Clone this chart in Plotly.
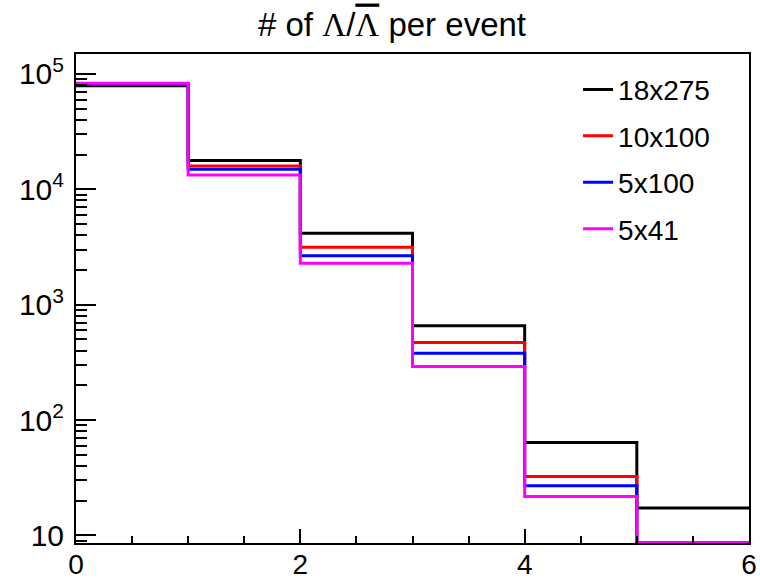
import plotly.graph_objects as go

# ---- data ----
bin_edges = [0, 1, 2, 3, 4, 5, 6]
series_names = ["18x275", "10x100", "5x100", "5x41"]
counts_18x275 = [79000, 17750, 4170, 655, 63.8, 17.3]
counts_10x100 = [81000, 15950, 3150, 470, 32.4, 0]
counts_5x100 = [82000, 14930, 2650, 380, 26.9, 0]
counts_5x41 = [83000, 13340, 2290, 291, 21.7, 0]
series_colors = ["#000000", "#ff0000", "#0000ff", "#ff00ff"]

y_tickvals = [10, 100, 1000, 10000, 100000]
y_ticktext = ["10", "10<sup>2</sup>", "10<sup>3</sup>", "10<sup>4</sup>", "10<sup>5</sup>"]
x_tickvals = [0, 2, 4, 6]

LOG_YMIN = 0.934
LOG_YMAX = 5.173
ymin_val = 10 ** LOG_YMIN

fig = go.Figure()
all_counts = [counts_18x275, counts_10x100, counts_5x100, counts_5x41]
for i, (name, cts, col) in enumerate(zip(series_names, all_counts, series_colors)):
    # empty bins drawn on the lower frame edge, as ROOT does on a log scale
    yy = [c if c > 0 else ymin_val for c in cts]
    fig.add_trace(go.Scatter(
        x=bin_edges,
        y=yy + [yy[-1]],
        mode="lines",
        line=dict(shape="hv", color=col, width=3),
        name=name,
        legendgroup=name,
        cliponaxis=False,
        hoverinfo="skip",
    ))

FONT = "Liberation Sans, Arial, Helvetica, sans-serif"
title_text = ('# of <span style="font-family:Liberation Serif">Λ</span>/'
              '<span style="font-family:Liberation Serif;text-decoration:overline">Λ</span> per event')

fig.update_layout(
    width=760, height=582,
    margin=dict(l=76, r=11, t=54, b=39),
    paper_bgcolor="white", plot_bgcolor="white",
    font=dict(family=FONT, size=28, color="black"),
    title=dict(text=title_text, x=392 / 760, xanchor="center", xref="container",
               y=1 - 24 / 582, yanchor="middle", yref="container",
               font=dict(family=FONT, size=33, color="black")),
    showlegend=True,
    legend=dict(x=0.746, y=0.978, xanchor="left", yanchor="top",
                bgcolor="rgba(0,0,0,0)", borderwidth=0,
                traceorder="grouped", tracegroupgap=7,
                font=dict(family=FONT, size=28, color="black")),
    xaxis=dict(range=[0, 6], tickvals=x_tickvals, ticks="inside", ticklen=14,
               tickwidth=1.5, tickcolor="black", automargin=False,
               showgrid=False, zeroline=False, showline=True, linecolor="black",
               linewidth=2, mirror=True, ticklabelstandoff=-5,
               minor=dict(dtick=0.5, ticks="inside", ticklen=7, tickwidth=1.5,
                          tickcolor="black", showgrid=False),
               tickfont=dict(family=FONT, size=28)),
    yaxis=dict(type="log", range=[LOG_YMIN, LOG_YMAX], tickvals=y_tickvals,
               ticktext=y_ticktext, ticks="inside", ticklen=20, tickwidth=1.5,
               tickcolor="black", showgrid=False, zeroline=False, showline=True,
               linecolor="black", linewidth=2, mirror=True, automargin=False,
               ticklabelstandoff=4,
               minor=dict(dtick="D1", ticks="inside", ticklen=11, tickwidth=1.5,
                          tickcolor="black", showgrid=False),
               tickfont=dict(family=FONT, size=30)),
)

fig.write_html("out.html", config={"displayModeBar": False},
               post_script="document.body.style.margin='0';document.body.style.overflow='hidden';")
